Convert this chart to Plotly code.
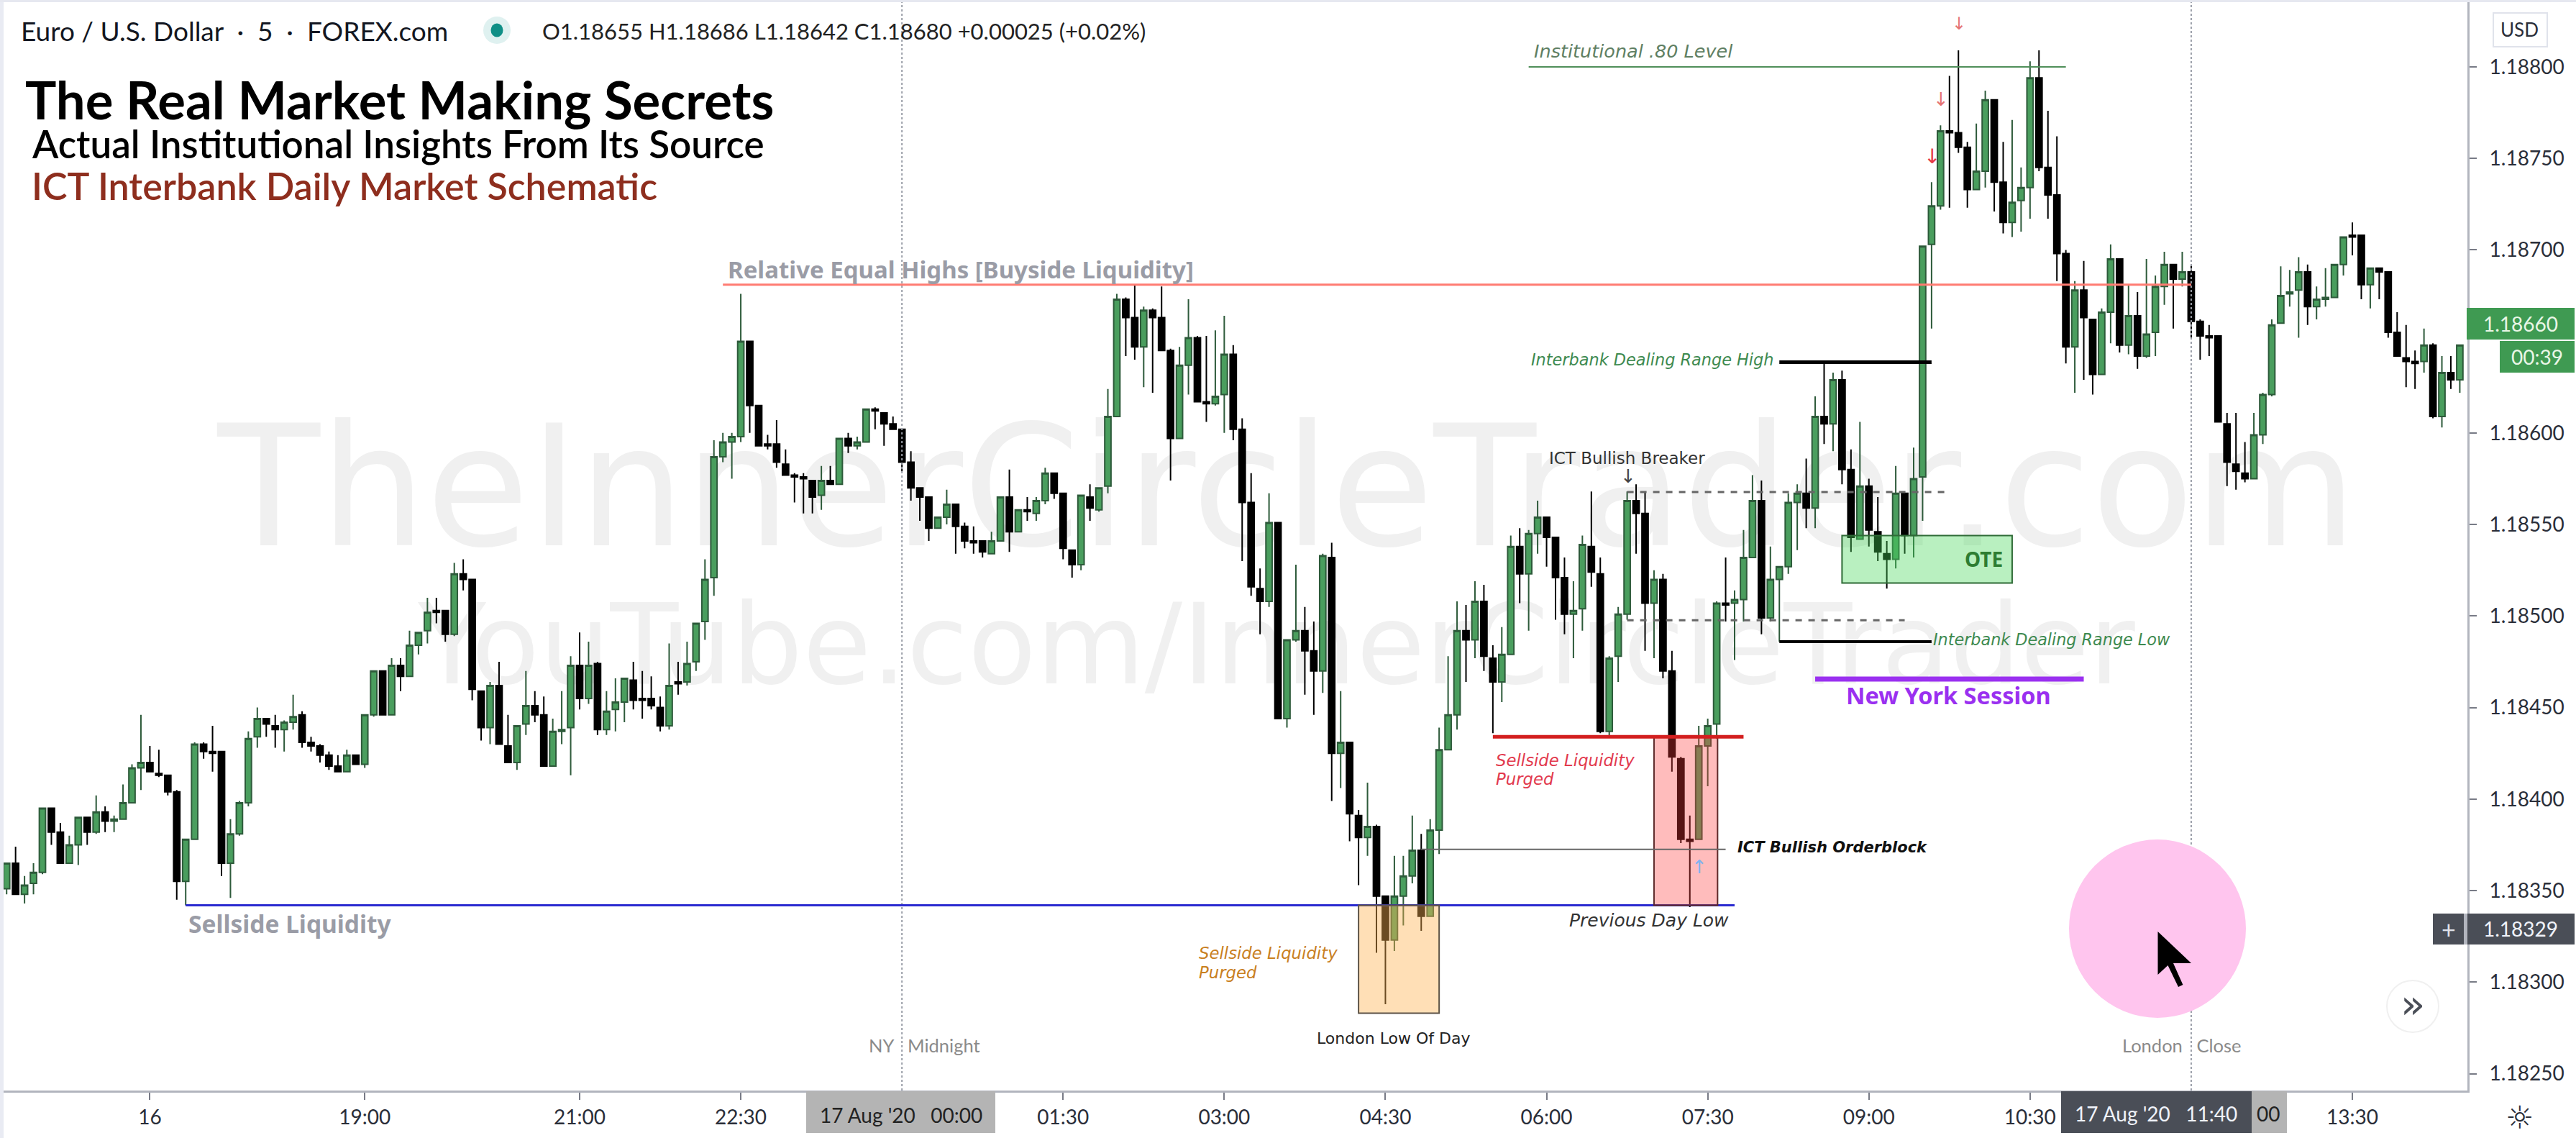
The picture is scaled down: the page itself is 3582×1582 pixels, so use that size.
import plotly.graph_objects as go

# prices in 1e-5 units above 1.00000
open_pts = [
18351,18365,18348,18354,18360,18395,18382,18365,18375,18390,
18382,18393,18388,18389,18398,18417,18420,18414,18413,18404,
18355,18378,18430,18426,18426,18365,18381,18398,18434,18444,
18440,18438,18442,18446,18431,18429,18424,18418,18415,18424,
18419,18446,18470,18446,18473,18467,18484,18492,18503,18503,
18490,18523,18520,18459,18439,18462,18429,18420,18441,18451,
18446,18418,18437,18439,18473,18455,18474,18438,18449,18453,
18465,18455,18455,18450,18440,18464,18464,18475,18497,18521,
18587,18595,18598,18650,18615,18594,18594,18583,18577,18576,
18574,18566,18574,18572,18597,18593,18595,18613,18611,18605,
18602,18584,18570,18565,18548,18554,18561,18549,18541,18541,
18534,18541,18565,18546,18558,18556,18563,18578,18567,18536,
18528,18565,18558,18571,18609,18673,18663,18647,18667,18663,
18645,18597,18637,18652,18617,18616,18621,18643,18602,18562,
18515,18508,18551,18444,18487,18492,18481,18470,18532,18425,
18431,18391,18379,18385,18347,18323,18347,18358,18372,18336,
18383,18427,18446,18492,18487,18508,18477,18464,18479,18538,
18523,18545,18554,18543,18521,18501,18504,18538,18523,18437,
18478,18501,18563,18556,18507,18520,18470,18422,18378,18378,
18429,18441,18507,18507,18509,18532,18563,18499,18520,18527,
18562,18567,18559,18609,18605,18629,18580,18542,18571,18546,
18534,18531,18567,18544,18576,18703,18724,18765,18764,18756,
18733,18743,18782,18737,18715,18727,18734,18794,18745,18730,
18698,18647,18678,18662,18632,18666,18695,18648,18664,18642,
18655,18680,18692,18684,18688,18661,18653,18653,18605,18583,
18578,18575,18599,18621,18660,18676,18678,18688,18669,18673,
18674,18692,18708,18708,18681,18690,18688,18655,18641,18639,
18639,18648,18609,18633,18629]
high_pts = [
18365,18374,18358,18365,18395,18395,18387,18380,18390,18390,
18402,18396,18391,18408,18419,18446,18429,18427,18413,18405,
18378,18431,18431,18440,18426,18389,18399,18437,18450,18444,
18446,18443,18457,18448,18434,18430,18426,18424,18427,18424,
18446,18470,18470,18477,18477,18492,18491,18510,18510,18503,
18529,18531,18520,18459,18464,18475,18446,18440,18470,18459,
18456,18444,18459,18478,18491,18486,18475,18459,18466,18466,
18475,18470,18467,18456,18485,18475,18486,18496,18531,18596,
18600,18600,18676,18650,18615,18599,18607,18591,18578,18578,
18574,18582,18582,18597,18600,18598,18613,18614,18611,18609,
18602,18590,18570,18565,18554,18569,18561,18551,18549,18541,
18546,18565,18580,18558,18565,18565,18581,18578,18567,18536,
18566,18572,18570,18624,18676,18674,18681,18669,18668,18680,
18646,18647,18673,18653,18653,18656,18664,18648,18608,18578,
18526,18567,18551,18487,18528,18505,18497,18534,18540,18459,
18431,18394,18409,18386,18347,18369,18369,18391,18381,18389,
18439,18478,18508,18506,18519,18517,18484,18494,18544,18548,
18547,18563,18554,18543,18532,18519,18544,18568,18532,18478,
18505,18568,18572,18568,18525,18523,18481,18423,18391,18440,
18444,18508,18532,18514,18547,18577,18574,18538,18527,18567,
18572,18586,18620,18638,18633,18634,18591,18606,18575,18565,
18541,18582,18567,18592,18702,18737,18768,18795,18809,18759,
18769,18787,18782,18759,18771,18745,18803,18809,18776,18762,
18700,18683,18694,18662,18668,18703,18695,18681,18677,18695,
18686,18699,18692,18699,18692,18662,18659,18653,18611,18611,
18595,18611,18622,18662,18691,18689,18696,18692,18680,18690,
18692,18707,18715,18708,18690,18690,18688,18666,18659,18645,
18657,18649,18642,18642,18648]
low_pts = [
18348,18348,18343,18348,18359,18375,18365,18365,18364,18375,
18381,18382,18382,18389,18398,18405,18415,18412,18402,18345,
18342,18378,18422,18415,18358,18346,18380,18396,18428,18434,
18428,18426,18438,18428,18426,18420,18416,18415,18415,18419,
18417,18445,18446,18446,18459,18467,18479,18485,18496,18486,
18489,18514,18454,18432,18430,18430,18420,18416,18435,18442,
18418,18418,18430,18413,18449,18452,18435,18435,18437,18442,
18449,18444,18449,18437,18438,18457,18462,18470,18487,18511,
18584,18575,18595,18600,18593,18591,18581,18577,18562,18556,
18556,18558,18572,18572,18589,18591,18595,18602,18593,18602,
18579,18563,18552,18541,18548,18550,18534,18537,18534,18532,
18534,18541,18535,18546,18552,18552,18561,18564,18531,18521,
18525,18552,18557,18567,18609,18642,18640,18625,18622,18645,
18574,18597,18621,18617,18606,18615,18600,18596,18530,18511,
18490,18505,18444,18439,18486,18457,18446,18458,18399,18406,
18377,18353,18369,18316,18288,18317,18331,18354,18328,18336,
18370,18427,18438,18464,18477,18470,18436,18453,18479,18507,
18492,18534,18527,18498,18490,18477,18492,18516,18436,18434,
18464,18498,18534,18481,18477,18466,18415,18376,18341,18378,
18407,18433,18497,18476,18497,18532,18490,18497,18486,18523,
18536,18548,18548,18594,18590,18572,18535,18542,18538,18530,
18515,18526,18534,18532,18552,18657,18722,18723,18753,18723,
18733,18734,18721,18709,18707,18710,18717,18743,18717,18683,
18638,18622,18629,18621,18632,18649,18644,18643,18635,18641,
18642,18670,18657,18680,18652,18640,18642,18606,18571,18569,
18573,18575,18594,18620,18660,18669,18652,18659,18662,18669,
18674,18686,18697,18673,18668,18673,18652,18642,18625,18624,
18633,18608,18603,18624,18622]
close_pts = [
18365,18348,18353,18360,18395,18382,18365,18375,18390,18382,
18393,18388,18389,18398,18417,18420,18415,18413,18404,18355,
18378,18430,18426,18425,18365,18381,18398,18433,18444,18441,
18438,18442,18445,18431,18429,18424,18418,18415,18424,18419,
18446,18470,18446,18473,18467,18484,18491,18502,18502,18490,
18523,18520,18460,18439,18462,18430,18420,18440,18451,18446,
18418,18437,18438,18473,18455,18473,18438,18448,18453,18466,
18454,18454,18451,18440,18462,18463,18474,18496,18520,18587,
18595,18598,18650,18615,18593,18593,18584,18577,18576,18575,
18565,18574,18572,18597,18593,18595,18613,18612,18605,18602,
18584,18570,18565,18548,18554,18561,18549,18541,18540,18535,
18541,18565,18546,18558,18557,18563,18578,18567,18537,18528,
18566,18559,18570,18609,18673,18663,18647,18667,18663,18645,
18597,18637,18652,18617,18616,18620,18643,18602,18562,18516,
18508,18551,18444,18487,18492,18481,18470,18533,18425,18431,
18392,18379,18385,18347,18323,18347,18358,18372,18336,18383,
18427,18446,18492,18487,18508,18478,18464,18479,18538,18523,
18545,18554,18543,18521,18501,18503,18539,18524,18437,18477,
18501,18563,18556,18507,18520,18470,18423,18378,18377,18429,
18440,18507,18506,18509,18532,18563,18499,18520,18527,18562,
18567,18559,18609,18605,18629,18580,18543,18571,18547,18535,
18531,18567,18544,18575,18702,18724,18765,18764,18756,18733,
18743,18782,18737,18715,18726,18734,18794,18745,18730,18698,
18647,18678,18663,18632,18666,18695,18648,18664,18642,18654,
18680,18692,18684,18688,18661,18653,18652,18606,18584,18579,
18575,18599,18621,18659,18675,18677,18688,18669,18673,18674,
18692,18707,18707,18681,18690,18688,18655,18642,18639,18638,
18648,18609,18633,18629,18648]

tick_bars = [16, 40, 64, 82, 100, 118, 136, 154, 172, 190, 208, 226, 240, 244, 262]
tick_labels = ["16", "19:00", "21:00", "22:30", "", "01:30", "03:00", "04:30", "06:00",
               "07:30", "09:00", "10:30", "", "", "13:30"]
price_ticks = [18250, 18300, 18350, 18400, 18450, 18500, 18550, 18600, 18700, 18750, 18800]

PW, PH = 3431, 1516          # plot area in page pixels
FONT = "Lato"
VERD = "DejaVu Sans"


def P(v):
    return 1 + v / 1e5


def fx(x):
    return x / PW


def fy(y):
    return 1 - y / PH


bars = list(range(len(open_pts)))
fig = go.Figure(go.Candlestick(
    x=bars,
    open=[P(v) for v in open_pts], high=[P(v) for v in high_pts],
    low=[P(v) for v in low_pts], close=[P(v) for v in close_pts],
    increasing=dict(line=dict(color="#2d5a3a", width=2), fillcolor="#4a9e5e"),
    decreasing=dict(line=dict(color="#000000", width=2), fillcolor="#000000"),
    whiskerwidth=0, hoverinfo="skip", showlegend=False,
))

shapes = []


def hline(i0, i1, level, color, width, dash="solid"):
    shapes.append(dict(type="line", xref="x", yref="y", x0=i0, x1=i1, y0=P(level), y1=P(level),
                       line=dict(color=color, width=width, dash=dash), layer="above"))


def box(i0, i1, lo, hi, fill, line):
    shapes.append(dict(type="rect", xref="x", yref="y", x0=i0, x1=i1, y0=P(lo), y1=P(hi),
                       fillcolor=fill, line=dict(color=line, width=2), layer="above"))


def pbox(x0, x1, y0, y1, fill, line=None, lw=0, layer="above"):
    shapes.append(dict(type="rect", xref="paper", yref="paper", x0=fx(x0), x1=fx(x1), y0=fy(y1), y1=fy(y0),
                       fillcolor=fill, line=dict(color=line or fill, width=lw), layer=layer))


def circle(x, y, rx, ry, fill, line="rgba(0,0,0,0)", lw=0):
    shapes.append(dict(type="circle", xref="paper", yref="paper", x0=fx(x - rx), x1=fx(x + rx),
                       y0=fy(y + ry), y1=fy(y - ry), fillcolor=fill, line=dict(color=line, width=lw), layer="above"))


# watermarks (behind the candles)
for txt, y0, y1, x0, x1, size in [("TheInnerCircleTrader.com", 540, 780, 290, 3290, 233),
                                  ("YouTube.com/InnerCircleTrader", 810, 960, 560, 2990, 155)]:
    shapes.append(dict(type="rect", xref="paper", yref="paper", x0=fx(x0), x1=fx(x1), y0=fy(y1), y1=fy(y0),
                       fillcolor="rgba(0,0,0,0)", line=dict(width=0), layer="below",
                       label=dict(text=txt, textposition="middle center",
                                  font=dict(family=VERD, size=size, color="#f0f0f0"))))

# session separators
for i in [100, 244]:
    shapes.append(dict(type="line", xref="x", yref="paper", x0=i, x1=i, y0=0, y1=1,
                       line=dict(color="#9a9ea8", width=2, dash="dot"), layer="above"))

# drawn levels and zones
hline(80, 244, 18681, "#ff7b72", 3)
hline(170, 230, 18800, "#4f8f5a", 2)
hline(20, 193, 18342, "#2a2ad0", 3)
box(151, 160, 18283, 18342, "rgba(255,178,80,0.42)", "#5d5346")
box(184, 191.1, 18342, 18434, "rgba(255,60,60,0.34)", "#5e2a2a")
box(205, 224, 18518, 18544, "rgba(70,215,90,0.38)", "#2f6b37")
hline(166, 194, 18434, "#d31f1f", 5)
hline(158, 192, 18372.5, "#666666", 2)
hline(181, 217, 18567.7, "#666666", 3, "dash")
hline(181, 212, 18497.7, "#666666", 3, "dash")
hline(198, 215, 18638.7, "#000000", 5)
hline(198, 215, 18486, "#000000", 4)
hline(202, 232, 18465.6, "#9a30f0", 7)

# page furniture
pbox(0, 5, 0, 1582, "#e9ebf3")
pbox(0, 3582, 0, 3, "#e6e8f0")
circle(691, 42, 19, 19, "#dff1f0")
circle(691, 42, 8.5, 9.5, "#0f8f86")
circle(3000, 1291, 123, 124, "#ffc5ee")
ARROW = [(3000.5, 1295), (3000.5, 1355), (3014.5, 1342), (3029, 1372), (3035.4, 1369), (3022, 1339), (3047, 1339)]
path = "M " + " L ".join(f"{fx(a):.6f},{fy(b):.6f}" for a, b in ARROW) + " Z"
shapes.append(dict(type="path", xref="paper", yref="paper", path=path, fillcolor="#000000",
                   line=dict(width=0), layer="above"))
circle(3355, 1399, 36, 36, "#ffffff", "#f0f0f0", 2)
# price labels
pbox(3430, 3580, 428, 472, "#3f9a52")
pbox(3476, 3580, 474, 518, "#3f9a52")
pbox(3383, 3580, 1270, 1313, "#4a4e57")
pbox(3426, 3431, 1270, 1313, "#b2b5be")
# time labels
pbox(1121, 1384, 1517, 1575, "#b4b4b4")
pbox(2916, 3180, 1517, 1575, "#b4b4b4")
pbox(2866, 3131, 1517, 1575, "#4a4e57")
shapes.append(dict(type="rect", xref="paper", yref="paper", x0=fx(3467), x1=fx(3542), y0=fy(65), y1=fy(18),
                   fillcolor="#ffffff", line=dict(color="#e0e3eb", width=2), layer="above"))

TEXTS = [
    ("Euro / U.S. Dollar  ·  5  ·  FOREX.com", 29, 43, 37, "#131722", FONT, "left", False, False, 400),
    ("O1.18655 H1.18686 L1.18642 C1.18680 +0.00025 (+0.02%)", 754, 43, 31, "#222222", FONT, "left", False, False, 400),
    ("The Real Market Making Secrets", 35, 137, 72.5, "#000000", FONT, "left", True, False, 400),
    ("Actual Institutional Insights From Its Source", 44, 200, 53, "#000000", FONT, "left", False, False, 600),
    ("ICT Interbank Daily Market Schematic", 44, 258, 52, "#8e2e1e", FONT, "left", False, False, 600),
    ("Relative Equal Highs [Buyside Liquidity]", 1012, 375, 33, "#9a9ca6", "Noto Sans", "left", True, False, 400),
    ("Sellside Liquidity", 262, 1284, 33.5, "#9a9ca6", "Noto Sans", "left", True, False, 400),
    ("Institutional .80 Level", 2133, 71, 25.5, "#5f7f63", VERD, "left", False, True, 400),
    ("Interbank Dealing Range High", 2129, 500, 22.4, "#3e8a50", VERD, "left", False, True, 400),
    ("ICT Bullish Breaker", 2154, 637, 23, "#333333", VERD, "left", False, False, 400),
    ("Interbank Dealing Range Low", 2688, 889, 22.3, "#3e8a50", VERD, "left", False, True, 400),
    ("New York Session", 2567, 966, 32.5, "#9a30f0", "Noto Sans", "left", True, False, 400),
    ("OTE", 2758, 777, 28, "#2e7d32", "Noto Sans", "center", True, False, 400),
    ("Sellside Liquidity", 2080, 1057, 22.8, "#e23a4e", VERD, "left", False, True, 400),
    ("Purged", 2080, 1083, 22.8, "#e23a4e", VERD, "left", False, True, 400),
    ("ICT Bullish Orderblock", 2416, 1178, 21, "#111111", VERD, "left", True, True, 400),
    ("Previous Day Low", 2182, 1279, 25, "#333333", VERD, "left", False, True, 400),
    ("Sellside Liquidity", 1667, 1325, 22.8, "#c9801f", VERD, "left", False, True, 400),
    ("Purged", 1667, 1352, 22.8, "#c9801f", VERD, "left", False, True, 400),
    ("London Low Of Day", 1831, 1443, 22, "#222222", VERD, "left", False, False, 400),
    ("NY   Midnight", 1208, 1453, 25.5, "#8a8a8a", FONT, "left", False, False, 400),
    ("London   Close", 2951, 1453, 25.5, "#8a8a8a", FONT, "left", False, False, 400),
    ("↓", 2724, 33, 24, "#e57373", VERD, "center", False, False, 400),
    ("↓", 2699, 138, 26, "#e57373", VERD, "center", False, False, 400),
    ("↓", 2686, 217, 28, "#e53945", VERD, "center", False, False, 400),
    ("↓", 2264, 662, 26, "#444444", VERD, "center", False, False, 400),
    ("↑", 2363, 1205, 26, "#7fb2f0", VERD, "center", False, False, 400),
    ("1.18660", 3505, 450, 28, "#e9f6e6", FONT, "center", False, False, 400),
    ("00:39", 3528, 496, 28, "#e9f6e6", FONT, "center", False, False, 400),
    ("+", 3405, 1291, 34, "#e0e3eb", FONT, "center", False, False, 400),
    ("1.18329", 3505, 1291, 28, "#f0f3fa", FONT, "center", False, False, 400),
    ("»", 3355, 1395, 56, "#4a4e57", VERD, "center", False, False, 400),
    ("17 Aug '20   00:00", 1253, 1550, 28, "#222222", FONT, "center", False, False, 400),
    ("17 Aug '20   11:40", 2998, 1548, 28, "#f0f3fa", FONT, "center", False, False, 400),
    ("00", 3154, 1548, 28, "#222222", FONT, "center", False, False, 400),
    ("USD", 3504, 41, 26, "#2a2e39", FONT, "center", False, False, 400),
    ("☼", 3504, 1553, 44, "#2a2e39", VERD, "center", False, False, 400),
]
annotations = []
for txt, x, y, size, color, fam, anchor, bold, ital, weight in TEXTS:
    annotations.append(dict(
        xref="paper", yref="paper", x=fx(x), y=fy(y), xanchor=anchor, yanchor="middle",
        text=(f"<b>{txt}</b>" if bold else txt) if not ital else (f"<i><b>{txt}</b></i>" if bold else f"<i>{txt}</i>"),
        showarrow=False, font=dict(family=fam, size=size, color=color, weight=weight), borderpad=0, borderwidth=0))

fig.update_layout(
    width=3582, height=1582,
    margin=dict(l=0, r=151, t=0, b=66, pad=0, autoexpand=False),
    paper_bgcolor="#ffffff", plot_bgcolor="#ffffff",
    showlegend=False, boxgap=0.3, boxgroupgap=0, dragmode=False,
    shapes=shapes, annotations=annotations,
    xaxis=dict(
        type="linear", range=[-0.74, 274.85], tickmode="array", tickvals=tick_bars, ticktext=tick_labels,
        rangeslider=dict(visible=False), showgrid=False, zeroline=False, showline=True,
        linecolor="#b2b5be", linewidth=3, ticks="outside", ticklen=10, tickwidth=2, tickcolor="#787b86",
        tickfont=dict(family=FONT, size=28, color="#2a2e39"),
    ),
    yaxis=dict(
        side="right", range=[P(18240.8), P(18836.5)], tickmode="array",
        tickvals=[P(v) for v in price_ticks], tickformat=".5f", showgrid=False, zeroline=False,
        showline=True, linecolor="#b2b5be", linewidth=3, ticks="outside", ticklen=10, tickwidth=2,
        tickcolor="#787b86", ticklabelstandoff=12,
        tickfont=dict(family=FONT, size=28, color="#2a2e39"),
    ),
)

fig.write_html("out.html", config={"displayModeBar": False},
               post_script="document.body.style.margin='0';document.body.style.overflow='hidden';")
